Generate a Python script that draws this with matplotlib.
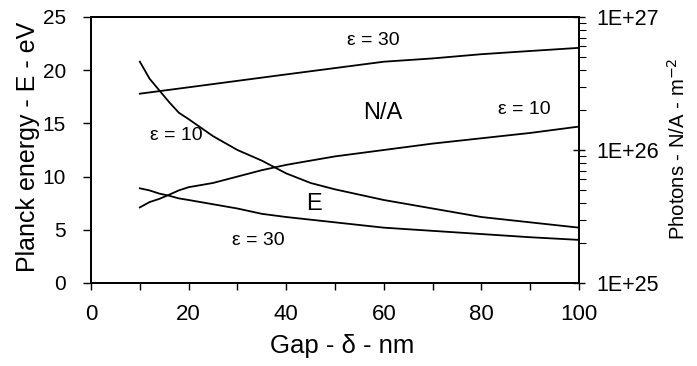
import math
import matplotlib
matplotlib.use("Agg")
import matplotlib.pyplot as plt
from matplotlib.ticker import LogLocator, FuncFormatter, NullFormatter, MultipleLocator

plt.rcParams['font.family'] = ['Liberation Sans', 'DejaVu Sans']

gap = [10, 12, 14, 16, 18, 20, 25, 30, 35, 40, 45, 50, 60, 70, 80, 90, 100]
E_eps10 = [20.8, 19.2, 18.1, 17.0, 16.0, 15.4, 13.8, 12.5, 11.5, 10.3, 9.4, 8.8, 7.8, 7.0, 6.2, 5.7, 5.2]
E_eps30 = [8.9, 8.7, 8.4, 8.2, 7.95, 7.8, 7.4, 7.0, 6.5, 6.2, 5.95, 5.7, 5.2, 4.9, 4.6, 4.3, 4.05]

gap_n30 = [10, 20, 30, 40, 50, 60, 70, 80, 90, 100]
N_eps30 = [2.65e26, 2.96e26, 3.31e26, 3.70e26, 4.13e26, 4.61e26, 4.88e26, 5.25e26, 5.55e26, 5.86e26]
N_eps10 = [3.70e25, 4.06e25, 4.29e25, 4.61e25, 4.97e25, 5.25e25, 5.65e25, 6.31e25, 7.05e25,
           7.73e25, 8.32e25, 8.95e25, 1.0e26, 1.117e26, 1.225e26, 1.343e26, 1.50e26]

fig = plt.figure(figsize=(6.97, 3.66), dpi=100)
ax = fig.add_axes([0.1306, 0.2268, 0.7001, 0.7268])
ax2 = ax.twinx()

lw = 1.3
ax.plot(gap, E_eps10, color='black', lw=lw)
ax.plot(gap, E_eps30, color='black', lw=lw)
ax2.plot(gap_n30, N_eps30, color='black', lw=lw)
ax2.plot(gap, N_eps10, color='black', lw=lw)

ax.set_xlim(0, 100)
ax.set_ylim(0, 25)
ax2.set_yscale('log')
ax2.set_ylim(1e25, 1e27)

ax.xaxis.set_major_locator(MultipleLocator(20))
ax.xaxis.set_minor_locator(MultipleLocator(10))
ax.yaxis.set_major_locator(MultipleLocator(5))
ax.tick_params(axis='x', which='both', direction='out', length=5, width=1, labelsize=16, pad=10)
ax.tick_params(axis='y', which='both', direction='out', length=6, width=1, labelsize=15, pad=12)

ax2.yaxis.set_major_locator(LogLocator(base=10, numticks=5))
ax2.yaxis.set_minor_locator(LogLocator(base=10, subs=range(2, 10), numticks=10))
ax2.yaxis.set_major_formatter(FuncFormatter(lambda v, p: "1E+%d" % round(math.log10(v))))
ax2.yaxis.set_minor_formatter(NullFormatter())
ax2.tick_params(axis='y', which='major', direction='inout', length=9, width=1, labelsize=15.5, pad=8)
ax2.tick_params(axis='y', which='minor', direction='out', length=5, width=0.8)

for a in (ax, ax2):
    for s in a.spines.values():
        s.set_linewidth(1.3)

ax.set_xlabel("Gap - δ - nm", fontsize=18.5)
ax.xaxis.set_label_coords(0.514, -0.19)
ax.set_ylabel("Planck energy - E - eV", fontsize=18)
ax.yaxis.set_label_coords(-0.105, 0.51)
ax2.set_ylabel("Photons - N/A - m$^{-2}$", fontsize=14.6, rotation=90)
ax2.yaxis.set_label_coords(1.18, 0.506)

lfs = 14
ax.text(57.8, 22.8, "ε = 30", fontsize=lfs, ha='center', va='center')
ax.text(59.8, 16.0, "N/A", fontsize=17, ha='center', va='center')
ax.text(88.7, 16.3, "ε = 10", fontsize=lfs, ha='center', va='center')
ax.text(17.5, 13.86, "ε = 10", fontsize=lfs, ha='center', va='center')
ax.text(45.7, 7.47, "E", fontsize=17, ha='center', va='center')
ax.text(34.3, 4.04, "ε = 30", fontsize=lfs, ha='center', va='center')

fig.savefig("out.png", dpi=100)
